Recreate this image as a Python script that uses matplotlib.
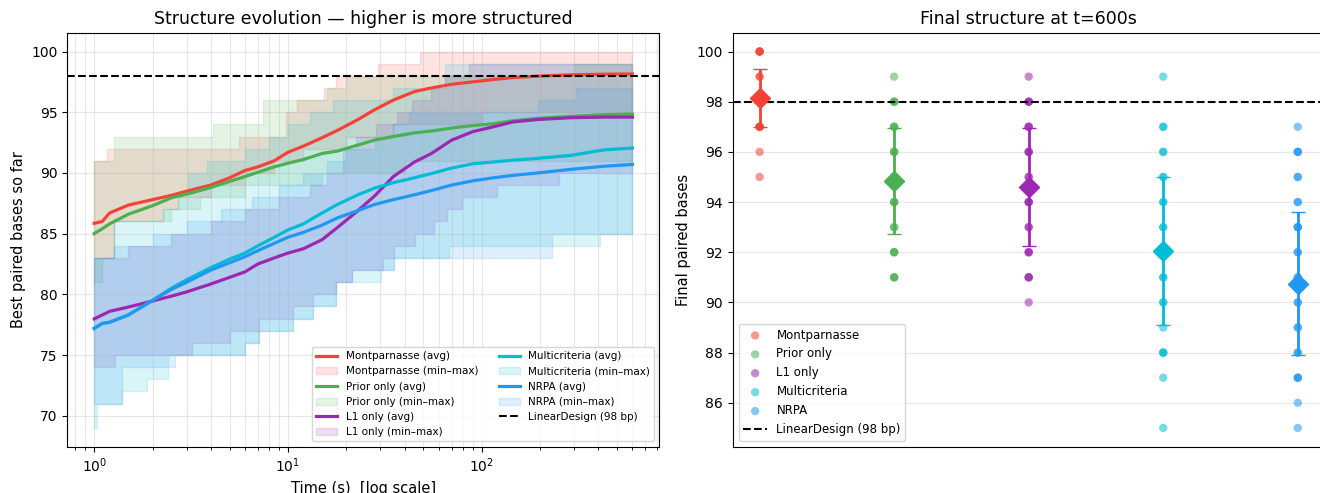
import numpy as np
import matplotlib
matplotlib.use("Agg")
import matplotlib.pyplot as plt
from matplotlib.patches import Patch

# ---------------- data ----------------
methods = ["Montparnasse", "Prior only", "L1 only", "Multicriteria", "NRPA"]
colors = ["#F44336", "#4CAF50", "#9C27B0", "#00BCD4", "#2196F3"]
linear_design = 98
t_end = 600

# average best-so-far curves
t_avg = [1, 1.1, 1.2, 1.5, 2, 2.5, 3, 4, 5, 6, 7, 8.5, 10, 12, 15, 18, 23, 28, 35,
         45, 55, 70, 90, 115, 145, 195, 290, 430, 600]
avg_mont = [85.85, 86.0, 86.7, 87.35, 87.8, 88.15, 88.5, 89.0, 89.6, 90.2, 90.5, 91.0,
            91.7, 92.2, 92.9, 93.5, 94.4, 95.2, 96.0, 96.7, 97.0, 97.3, 97.5,
            97.7, 97.85, 97.97, 98.08, 98.13, 98.15]
avg_prior = [85.0, 85.4, 85.8, 86.6, 87.3, 87.95, 88.25, 88.8, 89.3, 89.7, 90.05, 90.5,
             90.8, 91.1, 91.6, 91.8, 92.3, 92.7, 93.0, 93.3, 93.45, 93.7, 93.9,
             94.05, 94.3, 94.5, 94.66, 94.8, 94.85]
avg_l1 = [77.98, 78.3, 78.6, 78.95, 79.45, 79.85, 80.2, 80.85, 81.4, 81.85, 82.5, 83.0,
          83.4, 83.75, 84.5, 85.5, 86.9, 88.1, 89.7, 90.9, 91.6, 92.7, 93.4,
          93.8, 94.2, 94.4, 94.55, 94.6, 94.6]
avg_multi = [77.2, 77.6, 77.7, 78.3, 79.5, 80.5, 81.2, 82.2, 82.9, 83.4, 84.0, 84.7,
             85.3, 85.8, 86.7, 87.4, 88.2, 88.75, 89.2, 89.6, 89.95, 90.4, 90.75,
             90.9, 91.05, 91.2, 91.45, 91.9, 92.05]
avg_nrpa = [77.2, 77.6, 77.7, 78.3, 79.5, 80.4, 81.0, 82.0, 82.6, 83.1, 83.6, 84.2,
            84.7, 85.1, 85.7, 86.3, 86.9, 87.4, 87.8, 88.2, 88.55, 89.0, 89.35,
            89.6, 89.8, 90.0, 90.3, 90.55, 90.7]

# min / max envelopes (step functions: change times and values)
mont_max_t = [1, 1.16, 5.6, 9.8, 11.2, 15.4, 17.8, 29, 48.3]
mont_max_v = [91, 92, 93, 95, 96, 97, 98, 99, 100]
mont_min_t = [1, 1.27, 2.26, 2.7, 4, 6, 8.5, 12, 20, 35, 100]
mont_min_v = [83, 86, 87, 88, 89, 90, 91, 92, 93, 94, 95]

prior_max_t = [1, 1.26, 4.1, 7.4, 16, 20, 300]
prior_max_v = [91, 93, 94, 96, 97, 98, 99]
prior_min_t = [1, 1.1, 1.27, 2.5, 3.5, 6, 15, 40]
prior_min_v = [81, 83, 86, 87, 88, 89, 90, 91]

l1_max_t = [1, 1.5, 2.5, 4, 6, 9, 13, 16, 19.2, 22.4, 28.5, 36.7, 43.9, 55, 65, 86]
l1_max_v = [83, 84, 85, 86, 87, 88, 89, 90, 92, 93, 94, 95, 96, 97, 98, 99]
l1_min_t = [1, 1.28, 3.2, 5.0, 7.1, 10.6, 13.4, 17.7, 21.5, 30.8, 35.3, 45.5,
            56.8, 66, 79, 120, 250]
l1_min_v = [74, 75, 76, 77, 78, 79, 80, 81, 82, 83, 84, 85, 86, 87, 88, 89, 90]

multi_max_t = [1, 1.27, 2.26, 2.7, 3.04, 3.8, 6, 8, 10, 13, 17, 35, 65]
multi_max_v = [83, 86, 87, 88, 90, 91, 92, 93, 94, 95, 96, 97, 99]
multi_min_t = [1, 1.03, 1.39, 1.87, 2.41, 6.0, 7.1, 10.6, 13.4, 17.7, 30.1, 35.3,
               67.6, 406]
multi_min_v = [69, 71, 72, 73, 75, 76, 77, 78, 79, 81, 82, 83, 84, 85]

nrpa_max_t = [1, 1.27, 2.0, 3.0, 4.5, 6.5, 9, 12, 16, 20, 28, 35, 42, 195, 307]
nrpa_max_v = [83, 84, 85, 86, 87, 88, 89, 90, 91, 92, 93, 94, 95, 96, 97]
nrpa_min_t = [1, 1.39, 2.6, 6.0, 7.1, 10.6, 13.4, 17.7, 21.5, 35.3, 230]
nrpa_min_v = [71, 74, 75, 76, 77, 78, 79, 81, 82, 83, 85]

# final values at t=600 s (individual runs)
final_mont = [100, 100, 100, 100, 99, 99, 98, 98, 98, 97, 97, 97, 97, 96, 95]
final_prior = [99, 98, 98, 98, 97, 97, 97, 96, 96, 96, 95, 95, 95, 94, 94, 94,
               93, 93, 92, 92, 92, 91, 91, 91]
final_l1 = [99, 98, 98, 98, 97, 97, 97, 96, 96, 96, 95, 95, 94, 94, 94, 93, 93,
            92, 92, 92, 91, 91, 91, 90]
final_multi = [99, 97, 97, 96, 96, 95, 95, 94, 94, 93, 93, 92, 92, 91, 91, 90, 90,
               89, 88, 88, 88, 87, 85]
final_nrpa = [97, 96, 96, 96, 95, 95, 94, 94, 93, 93, 93, 92, 92, 91, 91, 90, 90,
              89, 89, 88, 88, 87, 87, 87, 86, 85]
final_mean = [98.15, 94.85, 94.6, 92.05, 90.75]
final_sd = [1.16, 2.12, 2.37, 2.96, 2.85]

avgs = [avg_mont, avg_prior, avg_l1, avg_multi, avg_nrpa]
bands = [(mont_min_t, mont_min_v, mont_max_t, mont_max_v),
         (prior_min_t, prior_min_v, prior_max_t, prior_max_v),
         (l1_min_t, l1_min_v, l1_max_t, l1_max_v),
         (multi_min_t, multi_min_v, multi_max_t, multi_max_v),
         (nrpa_min_t, nrpa_min_v, nrpa_max_t, nrpa_max_v)]
finals = [final_mont, final_prior, final_l1, final_multi, final_nrpa]


def step_at(bt, bv, t):
    idx = np.searchsorted(np.asarray(bt), np.asarray(t), side="right") - 1
    return np.asarray(bv, dtype=float)[idx]


# ---------------- figure ----------------
fig = plt.figure(figsize=(13.2, 4.93), dpi=100)
ax1 = fig.add_axes([67.3 / 1320, 1 - 446.7 / 493, 592 / 1320, 414 / 493])
ax2 = fig.add_axes([732.7 / 1320, 1 - 446.7 / 493, 592 / 1320, 414 / 493])

handles = []
for m, c, av, (mnt, mnv, mxt, mxv) in zip(methods, colors, avgs, bands):
    ln, = ax1.plot(t_avg, av, color=c, lw=2.3, label=f"{m} (avg)")
    tt = sorted(set(mnt) | set(mxt) | {t_end})
    lo = step_at(mnt, mnv, tt)
    hi = step_at(mxt, mxv, tt)
    ax1.fill_between(tt, lo, hi, step="post", color=c, alpha=0.15)
    handles.append(ln)
    handles.append(Patch(facecolor=c, edgecolor=c, alpha=0.15,
                         label=f"{m} (min–max)"))
hl = ax1.axhline(linear_design, color="black", ls="--", lw=1.5,
                 label=f"LinearDesign ({linear_design} bp)")
handles.append(hl)

ax1.set_xscale("log")
ax1.set_xlabel("Time (s)  [log scale]", fontsize=10.5)
ax1.set_ylabel("Best paired bases so far", fontsize=10.5)
ax1.set_title("Structure evolution — higher is more structured", fontsize=12.5)
ax1.grid(True, which="both", alpha=0.3)
ax1.legend(handles=handles, loc="lower right", ncol=2, fontsize=7.5)

# right panel
sc_handles = []
for i, (m, c, vals) in enumerate(zip(methods, colors, finals)):
    h = ax2.scatter([i] * len(vals), vals, color=c, alpha=0.55, s=36,
                    edgecolors="none", label=m, zorder=2)
    sc_handles.append(h)
    ax2.errorbar(i, final_mean[i], yerr=final_sd[i], fmt="D", color=c,
                 markersize=10, capsize=5, lw=2, zorder=3)
hl2 = ax2.axhline(linear_design, color="black", ls="--", lw=1.5,
                  label=f"LinearDesign ({linear_design} bp)")
ax2.set_xticks([])
ax2.set_ylabel("Final paired bases", fontsize=10.5)
ax2.set_title("Final structure at t=600s", fontsize=12.5)
ax2.grid(True, axis="y", alpha=0.3)
ax2.legend(handles=sc_handles + [hl2], loc="lower left", fontsize=8.5)

fig.savefig("out.png", dpi=100)
